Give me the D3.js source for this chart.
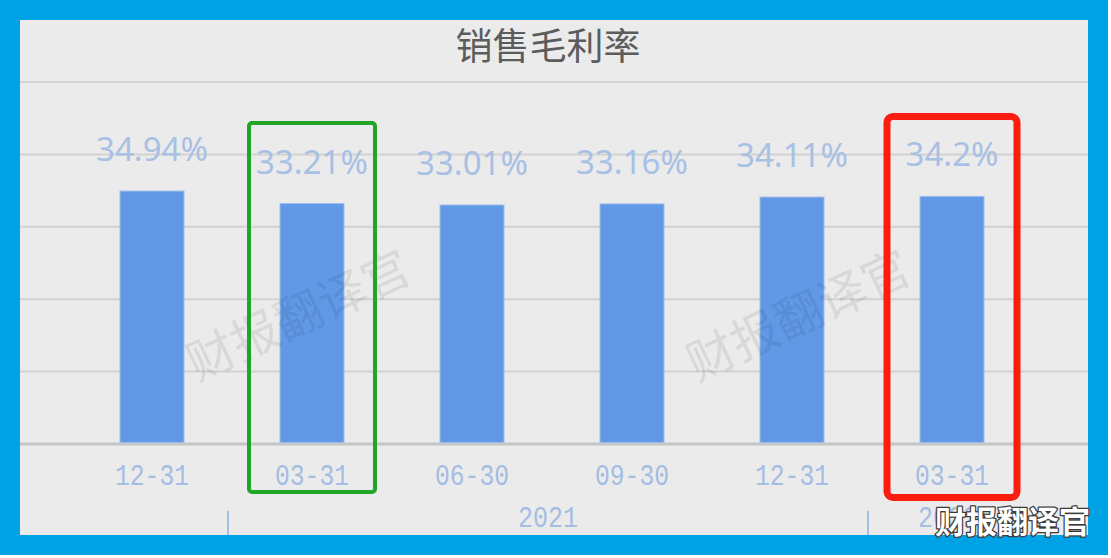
<!DOCTYPE html>
<html>
<head>
<meta charset="utf-8">
<script src="https://cdn.jsdelivr.net/npm/d3@7"></script>
<style>
  html, body { margin: 0; padding: 0; background: #fff; }
  svg { display: block; }
</style>
</head>
<body>
<svg id="chart" width="1111" height="558"></svg>
<script>
// chart data
const periods = ["2020-12-31", "2021-03-31", "2021-06-30", "2021-09-30", "2021-12-31", "2022-03-31"];
const tickLabels = ["12-31", "03-31", "06-30", "09-30", "12-31", "03-31"];
const grossMargin = [34.94, 33.21, 33.01, 33.16, 34.11, 34.2];
const yTicks = [0, 10, 20, 30, 40, 50];
const yearNames = ["2021", "2022"];
const yearFirst = [1, 5];
const yearLast = [4, 5];
const title = "销售毛利率";
const watermark = "财报翻译官";

const svg = d3.select("#chart");

// gray card behind everything
svg.append("rect")
  .attr("x", 20).attr("y", 20)
  .attr("width", 1068).attr("height", 515)
  .attr("fill", "#ebebeb");

const x = d3.scaleBand()
  .domain(periods)
  .range([72, 1032])
  .paddingInner(0.6)
  .paddingOuter(0.3);

const y = d3.scaleLinear()
  .domain([0, 50])
  .range([444, 82]);

// grid lines
svg.append("g")
  .selectAll("line")
  .data(yTicks)
  .join("line")
  .attr("x1", 20)
  .attr("x2", 1088)
  .attr("y1", d => y(d))
  .attr("y2", d => y(d))
  .attr("stroke", d => d === 0 ? "#c6c6c6" : "#d2d2d2")
  .attr("stroke-width", d => d === 0 ? 3 : 2);

// title
svg.append("text")
  .attr("x", 548)
  .attr("y", 44)
  .attr("text-anchor", "middle")
  .attr("dominant-baseline", "central")
  .style("font-family", "'Noto Sans CJK SC'")
  .style("font-size", "37px")
  .attr("fill", "#5c5c5c")
  .text(title);

const rows = periods.map((p, i) => ({ period: p, tick: tickLabels[i], value: grossMargin[i] }));

// bars
svg.append("g")
  .selectAll("rect")
  .data(rows)
  .join("rect")
  .attr("x", d => x(d.period))
  .attr("y", d => y(d.value))
  .attr("width", x.bandwidth())
  .attr("height", d => y(0) - y(d.value) - 1.5)
  .attr("fill", "#6199e6")
  .attr("stroke", "#9dbdee")
  .attr("stroke-width", 1);

// diagonal watermarks (drawn over the bars)
[297, 797].forEach(cx => {
  svg.append("text")
    .attr("transform", `translate(${cx},312) rotate(-25)`)
    .attr("text-anchor", "middle")
    .attr("dominant-baseline", "central")
    .style("font-family", "'Noto Sans CJK SC'")
    .style("font-size", "48px")
    .attr("fill", "#000")
    .attr("fill-opacity", 0.08)
    .text(watermark);
});

// value labels
svg.append("g")
  .selectAll("text")
  .data(rows)
  .join("text")
  .attr("x", d => x(d.period) + x.bandwidth() / 2)
  .attr("y", d => y(d.value) - 30)
  .attr("text-anchor", "middle")
  .style("font-family", "'Noto Sans'")
  .style("font-size", "33px")
  .attr("fill", "#a8c0e4")
  .text(d => d.value + "%");

// category labels
svg.append("g")
  .selectAll("text")
  .data(rows)
  .join("text")
  .attr("x", d => x(d.period) + x.bandwidth() / 2)
  .attr("y", 485)
  .attr("text-anchor", "middle")
  .attr("textLength", 74)
  .attr("lengthAdjust", "spacingAndGlyphs")
  .style("font-family", "'Liberation Mono'")
  .style("font-size", "30px")
  .attr("fill", "#a4bde2")
  .text(d => d.tick);

// year group labels and separators
const step = x.step();
yearNames.forEach((name, i) => {
  const left = x(periods[yearFirst[i]]) + x.bandwidth() / 2 - step / 2 - 4;
  const right = x(periods[yearLast[i]]) + x.bandwidth() / 2 + step / 2 - 4;
  svg.append("line")
    .attr("x1", left).attr("x2", left)
    .attr("y1", 511).attr("y2", 540)
    .attr("stroke", "#a4bde2")
    .attr("stroke-width", 2);
  svg.append("text")
    .attr("x", (left + right) / 2)
    .attr("y", 527)
    .attr("text-anchor", "middle")
    .attr("textLength", 60)
    .attr("lengthAdjust", "spacingAndGlyphs")
    .style("font-family", "'Liberation Mono'")
    .style("font-size", "30px")
    .attr("fill", "#a4bde2")
    .text(name);
});

// highlight boxes
const boxes = [
  { period: periods[1], half: 63, top: 123, bottom: 492, color: "#20a526", w: 4, r: 3 },
  { period: periods[5], half: 65, top: 116.5, bottom: 497.5, color: "#fd1c10", w: 7, r: 6 }
];
boxes.forEach(b => {
  const cx = x(b.period) + x.bandwidth() / 2;
  svg.append("rect")
    .attr("x", cx - b.half)
    .attr("y", b.top)
    .attr("width", b.half * 2)
    .attr("height", b.bottom - b.top)
    .attr("rx", b.r)
    .attr("fill", "none")
    .attr("stroke", b.color)
    .attr("stroke-width", b.w);
});

// blue frame
svg.append("rect")
  .attr("x", 10).attr("y", 10)
  .attr("width", 1088).attr("height", 535)
  .attr("fill", "none")
  .attr("stroke", "#00a2e6")
  .attr("stroke-width", 20);

// corner watermark
svg.append("text")
  .attr("x", 1090)
  .attr("y", 533)
  .attr("text-anchor", "end")
  .style("font-family", "'Noto Sans CJK SC'")
  .style("font-size", "31px")
  .style("font-weight", "bold")
  .style("paint-order", "stroke")
  .attr("fill", "#fff")
  .attr("stroke", "#3a3a3a")
  .attr("stroke-width", 2.5)
  .attr("stroke-linejoin", "round")
  .text(watermark);
</script>
</body>
</html>
